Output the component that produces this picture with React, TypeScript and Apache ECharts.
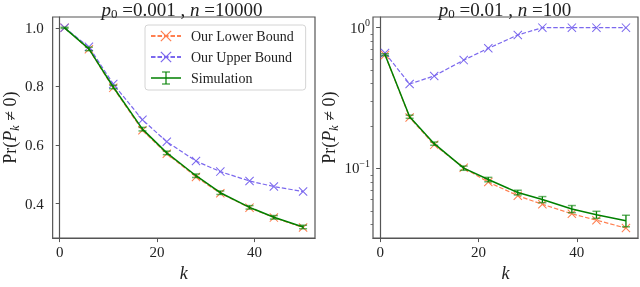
import React, { useEffect, useRef } from 'react';
import * as echarts from 'echarts';

// ---- data ----
const kValues = [1, 6, 11, 17, 22, 28, 33, 39, 44, 50];

// left panel: p0 = 0.001, n = 10000
const lowerA = [1.0, 0.927, 0.795, 0.650, 0.570, 0.491, 0.435, 0.386, 0.352, 0.318];
const upperA = [1.0, 0.935, 0.808, 0.686, 0.611, 0.545, 0.509, 0.477, 0.458, 0.441];
const simA = [1.0, 0.928, 0.798, 0.654, 0.573, 0.495, 0.437, 0.387, 0.353, 0.320];
const errA = [0.002, 0.006, 0.006, 0.006, 0.006, 0.006, 0.006, 0.006, 0.006, 0.006];

// right panel: p0 = 0.01, n = 100
const lowerB = [0.64, 0.23, 0.147, 0.101, 0.080, 0.064, 0.0556, 0.0476, 0.0429, 0.0377];
const upperB = [0.66, 0.398, 0.454, 0.588, 0.713, 0.887, 1.0, 1.0, 1.0, 1.0];
const simB = [0.642, 0.233, 0.150, 0.1005, 0.0834, 0.0674, 0.0601, 0.0515, 0.0469, 0.0425];
const errB = [0.01, 0.006, 0.004, 0.0035, 0.003, 0.0026, 0.003, 0.003, 0.0027, 0.004];

const xTicks = [0, 20, 40];
const yTicksA = [0.4, 0.6, 0.8, 1.0];
const yTicksB = [0.1, 1];
const yMinorB = [0.04, 0.05, 0.06, 0.07, 0.08, 0.09, 0.2, 0.3, 0.4, 0.5, 0.6, 0.7, 0.8, 0.9];

const legendNames = ['Our Lower Bound', 'Our Upper Bound', 'Simulation'];

// ---- styling ----
const FONT = '"Liberation Serif", "DejaVu Serif", serif';
const TXT = '#222';
const AX = '#555';
const C_LOW = '#ff7f50';
const C_UP = '#7b68ee';
const C_SIM = '#008000';
const X_PATH = 'path://M0,0.8L0.8,0L10,9.2L9.2,10Z M9.2,0L10,0.8L0.8,10L0,9.2Z';
const SIM_ICON = 'path://M0,6.3H30V7.7H0Z M14.4,1H15.6V13H14.4Z M11,0.4H19V1.6H11Z M11,12.4H19V13.6H11Z';

function rich(size: number, subSize: number) {
  return {
    n: { fontFamily: FONT, fontSize: size, fontWeight: 'normal', color: TXT, lineHeight: 22 },
    i: { fontFamily: FONT, fontSize: size, fontWeight: 'normal', color: TXT, fontStyle: 'italic', lineHeight: 22 },
    sub: { fontFamily: FONT, fontSize: subSize, fontWeight: 'normal', color: TXT, lineHeight: 12, verticalAlign: 'bottom' },
    subi: { fontFamily: FONT, fontSize: subSize, fontWeight: 'normal', color: TXT, lineHeight: 12, verticalAlign: 'bottom', fontStyle: 'italic' },
  };
}
const richTitle = rich(19, 13);
const richLabel = rich(18, 12);

function makeX(gridIndex: number) {
  return {
    type: 'value',
    gridIndex,
    min: -1.45,
    max: 52.45,
    name: 'k',
    nameLocation: 'middle',
    nameGap: 21,
    nameTextStyle: { fontFamily: FONT, fontSize: 18, fontStyle: 'italic', color: TXT },
    axisLine: { show: true, lineStyle: { color: AX, width: 1.2 } },
    axisTick: { show: true, length: 4, customValues: xTicks, lineStyle: { color: AX, width: 1 } },
    axisLabel: {
      customValues: xTicks,
      margin: 6,
      fontFamily: FONT,
      fontSize: 15,
      color: TXT,
      formatter: (v: number) => String(Math.round(v)),
    },
    splitLine: { show: false },
  };
}

function lineSeries(name: string, data: number[], color: string, gi: number, dashed: boolean) {
  return {
    type: 'line',
    name,
    xAxisIndex: gi,
    yAxisIndex: gi,
    data: kValues.map((k, i) => [k, data[i]]),
    symbol: dashed ? X_PATH : 'none',
    symbolSize: 9,
    showSymbol: dashed,
    itemStyle: { color },
    lineStyle: { color, width: dashed ? 1.2 : 1.5, type: dashed ? [4.5, 2] : 'solid' },
    z: dashed ? 2 : 4,
  };
}

function errSeries(sim: number[], err: number[], gi: number) {
  return {
    type: 'custom',
    name: 'err' + gi,
    xAxisIndex: gi,
    yAxisIndex: gi,
    z: 5,
    data: kValues.map((k, i) => [k, sim[i] - err[i], sim[i] + err[i]]),
    encode: { x: 0, y: [1, 2] },
    renderItem: (params: any, api: any) => {
      const x = api.value(0);
      const a = api.coord([x, api.value(1)]);
      const b = api.coord([x, api.value(2)]);
      const c = 4;
      const capStyle = { stroke: 'rgba(0,128,0,0.6)', lineWidth: 1.5 };
      return {
        type: 'group',
        children: [
          { type: 'line', shape: { x1: a[0], y1: a[1], x2: b[0], y2: b[1] }, style: { stroke: C_SIM, lineWidth: 1.3 } },
          { type: 'line', shape: { x1: a[0] - c, y1: a[1], x2: a[0] + c, y2: a[1] }, style: capStyle },
          { type: 'line', shape: { x1: b[0] - c, y1: b[1], x2: b[0] + c, y2: b[1] }, style: capStyle },
        ],
      };
    },
  };
}

const yName = '{n|Pr(}{i|P}{subi|k}{n| ≠ 0)}';

export default function App() {
  const ref = useRef<HTMLDivElement>(null);
  useEffect(() => {
    if (!ref.current) return;
    const chart = echarts.init(ref.current, null, { renderer: 'svg' });
    const gridCommon = { top: 17, height: 232, show: true, borderColor: AX, borderWidth: 1.2, backgroundColor: 'transparent' };
    const option: any = {
      animation: false,
      textStyle: { fontFamily: FONT },
      title: [
        {
          text: '{i|p}{sub|0}{n| =0.001 , }{i|n}{n| =10000}',
          left: 182,
          top: -2,
          textAlign: 'center',
          padding: 0,
          textStyle: { fontWeight: 'normal', rich: richTitle },
        },
        {
          text: '{i|p}{sub|0}{n| =0.01 , }{i|n}{n| =100}',
          left: 505,
          top: -2,
          textAlign: 'center',
          padding: 0,
          textStyle: { fontWeight: 'normal', rich: richTitle },
        },
      ],
      legend: {
        data: [legendNames[0], legendNames[1], { name: legendNames[2], icon: SIM_ICON }],
        orient: 'vertical',
        left: 145,
        top: 25,
        padding: [4, 12, 5, 5],
        itemGap: 7,
        itemWidth: 30,
        itemHeight: 14,
        backgroundColor: 'rgba(255,255,255,0.85)',
        borderColor: '#d4d4d4',
        borderWidth: 1,
        borderRadius: 3,
        textStyle: { fontFamily: FONT, fontSize: 14, color: TXT, padding: [0, 0, 0, 5] },
      },
      grid: [
        { ...gridCommon, left: 49, width: 266 },
        { ...gridCommon, left: 373, width: 265 },
      ],
      xAxis: [makeX(0), makeX(1)],
      yAxis: [
        {
          type: 'value',
          gridIndex: 0,
          min: 0.282,
          max: 1.037,
          name: yName,
          nameLocation: 'middle',
          nameRotate: 90,
          nameGap: 29,
          nameTextStyle: { rich: richLabel },
          axisLine: { show: true, lineStyle: { color: AX, width: 1.2 } },
          axisTick: { show: true, length: 4, customValues: yTicksA, lineStyle: { color: AX, width: 1 } },
          axisLabel: {
            customValues: yTicksA,
            margin: 9,
            fontFamily: FONT,
            fontSize: 15,
            color: TXT,
            formatter: (v: number) => v.toFixed(1),
          },
          splitLine: { show: false },
        },
        {
          type: 'log',
          logBase: 10,
          gridIndex: 1,
          position: 'left',
          min: 0.032,
          max: 1.19,
          name: yName,
          nameLocation: 'middle',
          nameRotate: 90,
          nameGap: 33,
          nameTextStyle: { rich: richLabel },
          axisLine: { show: true, lineStyle: { color: AX, width: 1.2 } },
          axisTick: { show: true, length: 4, customValues: yTicksB, lineStyle: { color: AX, width: 1 } },
          axisLabel: {
            customValues: yTicksB,
            margin: 3,
            formatter: (v: number) => {
              const e = Math.round(Math.log10(v));
              return '{n|10}{sup|' + (e < 0 ? '−' + -e : String(e)) + '}';
            },
            rich: {
              n: { fontFamily: FONT, fontSize: 15, color: TXT, lineHeight: 20 },
              sup: { fontFamily: FONT, fontSize: 10, color: TXT, lineHeight: 10, verticalAlign: 'top' },
            },
          },
          splitLine: { show: false },
        },
        {
          type: 'log',
          logBase: 10,
          gridIndex: 1,
          position: 'left',
          min: 0.032,
          max: 1.19,
          axisLine: { show: false },
          axisTick: { show: true, length: 2.5, customValues: yMinorB, lineStyle: { color: AX, width: 0.8 } },
          axisLabel: { show: false },
          splitLine: { show: false },
        },
      ],
      series: [
        lineSeries(legendNames[0], lowerA, C_LOW, 0, true),
        lineSeries(legendNames[1], upperA, C_UP, 0, true),
        lineSeries(legendNames[2], simA, C_SIM, 0, false),
        errSeries(simA, errA, 0),
        lineSeries(legendNames[0], lowerB, C_LOW, 1, true),
        lineSeries(legendNames[1], upperB, C_UP, 1, true),
        lineSeries(legendNames[2], simB, C_SIM, 1, false),
        errSeries(simB, errB, 1),
      ],
    };
    chart.setOption(option);
    return () => chart.dispose();
  }, []);
  return <div ref={ref} style={{ position: 'fixed', left: 0, top: 0, width: 640, height: 287 }} />;
}
